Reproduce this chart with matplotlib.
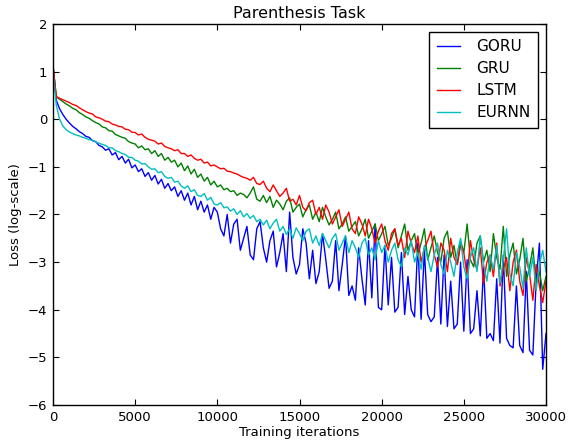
import numpy as np
import matplotlib
matplotlib.use('Agg')
import matplotlib.pyplot as plt

iters = np.arange(0, 30001, 200)

goru = [1.15, 0.40, 0.22, 0.10, 0.00,
        -0.08, -0.15, -0.20, -0.26, -0.30,
        -0.36, -0.38, -0.45, -0.47, -0.55,
        -0.58, -0.65, -0.62, -0.75, -0.70,
        -0.85, -0.78, -0.92, -0.84, -1.02,
        -0.96, -1.10, -1.04, -1.20, -1.12,
        -1.28, -1.18, -1.36, -1.26, -1.45,
        -1.35, -1.50, -1.42, -1.62, -1.50,
        -1.70, -1.55, -1.80, -1.62, -1.90,
        -1.72, -1.95, -1.80, -2.10, -1.85,
        -1.95, -2.30, -2.45, -2.00, -2.60,
        -2.20, -2.10, -2.75, -2.50, -2.25,
        -2.85, -2.95, -2.30, -2.15, -2.70,
        -3.00, -2.55, -2.35, -3.10, -2.80,
        -2.40, -3.20, -1.95, -2.90, -3.25,
        -3.05, -2.30, -2.60, -3.35, -2.75,
        -3.45, -3.20, -2.40, -2.95, -3.55,
        -3.40, -2.55, -3.60, -3.05, -2.45,
        -3.70, -3.50, -3.80, -2.70, -3.35,
        -3.90, -2.55, -3.75, -2.20, -3.95,
        -4.00, -2.65, -3.90, -2.90, -4.05,
        -3.95, -2.80, -4.10, -3.30, -4.00,
        -4.15, -2.60, -4.20, -2.75, -4.10,
        -4.25, -4.15, -2.90, -4.30, -2.85,
        -4.35, -3.40, -4.40, -4.30, -3.00,
        -4.45, -2.95, -4.50, -4.40, -3.60,
        -4.55, -3.10, -4.60, -4.50, -4.65,
        -3.35, -4.70, -2.85, -4.60, -4.75,
        -4.80, -3.50, -4.75, -4.90, -3.20,
        -4.85, -4.95, -3.40, -2.60, -5.25,
        -4.50]

gru = [1.10, 0.47, 0.42, 0.37, 0.32,
       0.28, 0.23, 0.20, 0.14, 0.10,
       0.05, 0.02, -0.03, -0.07, -0.10,
       -0.16, -0.18, -0.24, -0.25, -0.32,
       -0.35, -0.38, -0.40, -0.47, -0.50,
       -0.52, -0.60, -0.56, -0.64, -0.62,
       -0.72, -0.66, -0.78, -0.72, -0.86,
       -0.80, -0.90, -0.86, -1.00, -0.92,
       -1.08, -0.98, -1.15, -1.05, -1.22,
       -1.15, -1.30, -1.22, -1.38, -1.30,
       -1.42, -1.38, -1.48, -1.45, -1.52,
       -1.50, -1.60, -1.55, -1.58, -1.65,
       -1.55, -1.42, -1.68, -1.72, -1.60,
       -1.75, -1.62, -1.85, -1.70, -1.78,
       -1.90, -1.72, -1.65, -1.95, -1.85,
       -1.78, -2.05, -1.90, -1.80, -2.10,
       -1.95, -2.15, -1.85, -2.05, -2.22,
       -2.10, -1.95, -2.30, -2.20, -2.05,
       -2.35, -2.25, -2.15, -2.45, -2.30,
       -2.10, -2.50, -2.35, -2.20, -2.55,
       -2.40, -2.25, -2.65, -2.50, -2.30,
       -2.70, -2.45, -2.20, -2.75, -2.55,
       -2.40, -2.85, -2.60, -2.30, -2.95,
       -2.70, -2.45, -2.80, -3.00, -2.50,
       -2.35, -2.90, -2.65, -3.05, -2.55,
       -2.80, -2.20, -2.95, -3.10, -2.60,
       -2.45, -3.00, -2.75, -3.20, -2.40,
       -2.90, -3.15, -2.25, -3.30, -2.85,
       -2.60, -3.25, -2.95, -2.50, -3.40,
       -3.10, -2.70, -3.45, -3.20, -3.60,
       -3.30]

lstm = [1.12, 0.48, 0.44, 0.41, 0.38,
        0.35, 0.31, 0.29, 0.24, 0.20,
        0.16, 0.13, 0.11, 0.05, 0.03,
        0.00, -0.04, -0.05, -0.10, -0.12,
        -0.15, -0.16, -0.21, -0.22, -0.27,
        -0.28, -0.33, -0.31, -0.38, -0.42,
        -0.44, -0.46, -0.52, -0.50, -0.57,
        -0.60, -0.62, -0.66, -0.64, -0.72,
        -0.72, -0.78, -0.75, -0.82, -0.86,
        -0.84, -0.92, -0.90, -0.98, -0.96,
        -1.00, -1.04, -1.03, -1.09, -1.10,
        -1.13, -1.15, -1.19, -1.22, -1.24,
        -1.28, -1.22, -1.35, -1.37, -1.30,
        -1.45, -1.52, -1.38, -1.50, -1.62,
        -1.55, -1.45, -1.72, -1.68, -1.80,
        -1.60, -1.85, -1.92, -1.75, -1.70,
        -2.00, -1.85, -2.10, -1.80, -1.95,
        -2.20, -2.05, -1.90, -2.25, -2.10,
        -1.95, -2.30, -2.40, -2.05, -2.20,
        -2.45, -2.10, -2.30, -2.60, -2.35,
        -2.20, -2.55, -2.75, -2.40, -2.30,
        -2.65, -2.50, -2.90, -2.35, -2.60,
        -2.80, -2.45, -3.00, -2.70, -2.55,
        -2.35, -2.85, -3.10, -2.60, -2.75,
        -3.20, -2.50, -2.90, -3.05, -2.65,
        -2.80, -3.30, -2.55, -2.95, -3.15,
        -2.70, -3.45, -3.00, -2.85, -3.30,
        -2.60, -3.50, -3.15, -2.90, -3.60,
        -3.00, -2.75, -3.40, -3.70, -2.90,
        -3.25, -3.80, -3.05, -3.50, -3.85,
        -3.40]

eurnn = [1.00, 0.30, 0.00, -0.14, -0.22,
         -0.27, -0.30, -0.33, -0.35, -0.38,
         -0.40, -0.43, -0.44, -0.48, -0.50,
         -0.53, -0.55, -0.60, -0.60, -0.66,
         -0.68, -0.72, -0.74, -0.80, -0.80,
         -0.86, -0.88, -0.94, -0.93, -1.00,
         -1.05, -1.04, -1.12, -1.10, -1.20,
         -1.24, -1.22, -1.32, -1.30, -1.40,
         -1.45, -1.40, -1.52, -1.48, -1.60,
         -1.62, -1.56, -1.70, -1.64, -1.78,
         -1.80, -1.75, -1.86, -1.84, -1.93,
         -1.88, -2.00, -1.92, -2.05, -1.98,
         -2.08, -2.02, -2.15, -2.10, -2.22,
         -2.12, -2.30, -2.18, -2.10, -2.35,
         -2.25, -2.42, -2.30, -2.50, -2.28,
         -2.40, -2.55, -2.35, -2.30, -2.60,
         -2.45, -2.65, -2.40, -2.55, -2.70,
         -2.50, -2.40, -2.75, -2.60, -2.45,
         -2.80, -2.55, -2.70, -2.90, -2.60,
         -2.50, -2.85, -2.70, -2.95, -2.55,
         -2.80, -2.65, -3.00, -2.75, -2.60,
         -2.95, -3.10, -2.70, -2.85, -2.55,
         -3.00, -2.80, -3.15, -2.65, -2.90,
         -3.20, -2.85, -2.60, -3.05, -3.25,
         -2.75, -3.00, -3.30, -2.80, -2.50,
         -3.10, -3.35, -2.90, -2.70, -3.20,
         -2.45, -3.05, -3.40, -2.85, -3.15,
         -2.65, -3.45, -2.95, -2.30, -3.25,
         -3.50, -2.80, -3.10, -3.55, -2.70,
         -3.30, -2.90, -3.60, -3.05, -2.75,
         -3.20]

series = [('GORU', goru, '#0000ff'),
          ('GRU', gru, '#008000'),
          ('LSTM', lstm, '#ff0000'),
          ('EURNN', eurnn, '#00bfbf')]

plt.rcParams['font.family'] = ['DejaVu Sans']
plt.rcParams['font.size'] = 9.5
plt.rcParams['axes.unicode_minus'] = True

fig = plt.figure(figsize=(5.68, 4.42), dpi=100)
ax = fig.add_axes([53 / 568, 1 - 405 / 442, 493 / 568, 381 / 442])

for name, vals, col in series:
    ax.plot(iters, vals, color=col, lw=1.0, label=name)

ax.set_xlim(0, 30000)
ax.set_ylim(-6, 2)
ax.set_xticks([0, 5000, 10000, 15000, 20000, 25000, 30000])
ax.set_yticks(range(-6, 3))
ax.tick_params(direction='in', top=True, right=True, length=4, width=0.8,
               labelsize=9.5, pad=4)
for sp in ax.spines.values():
    sp.set_linewidth(1.0)
    sp.set_color('black')

ax.set_title('Parenthesis Task', fontsize=11.5, pad=4)
ax.set_xlabel('Training iterations', fontsize=9.5, labelpad=2)
ax.set_ylabel('Loss (log-scale)', fontsize=9.5, labelpad=4)

leg = ax.legend(loc='upper right', fontsize=11, fancybox=False,
                handlelength=1.5, handletextpad=1.1, borderpad=0.5,
                labelspacing=0.45, borderaxespad=0.5, framealpha=1)
leg.get_frame().set_edgecolor('black')
leg.get_frame().set_linewidth(1.0)

fig.savefig('out.png', dpi=100)
